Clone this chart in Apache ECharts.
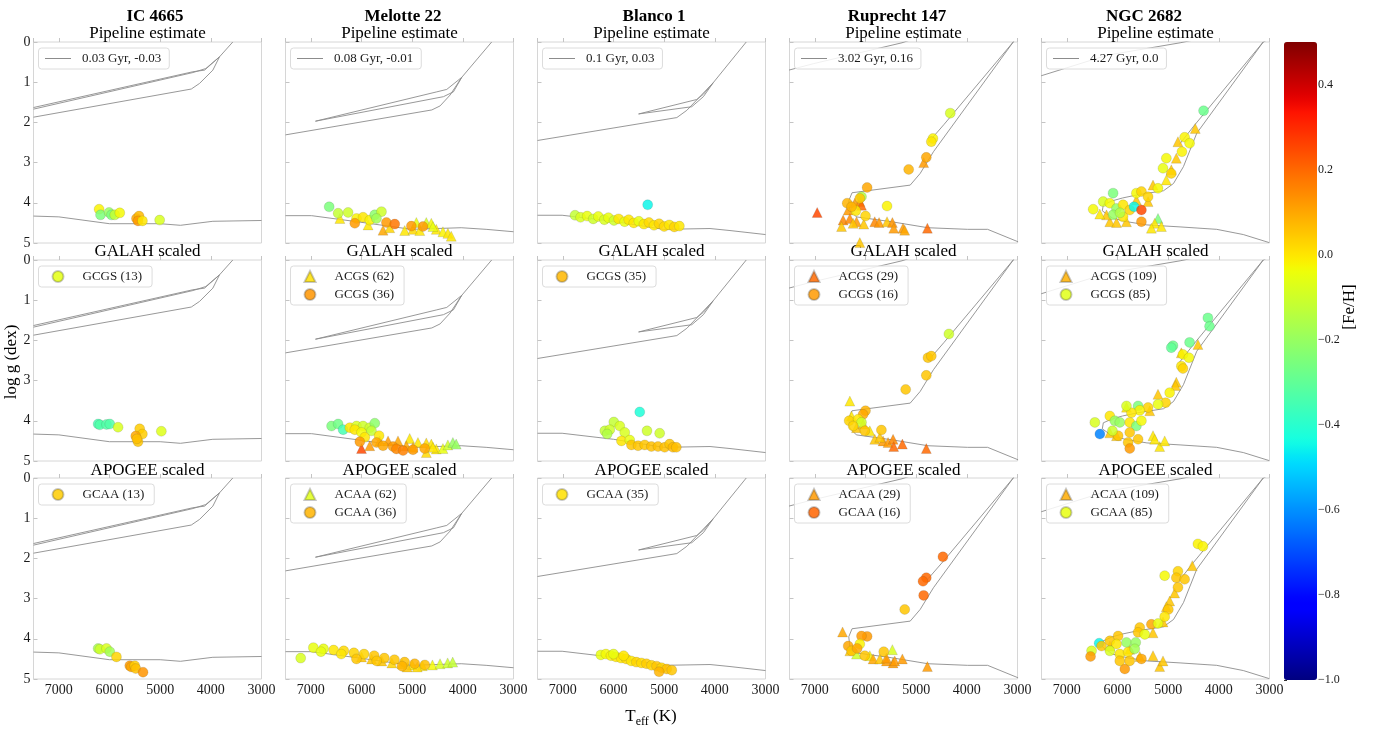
<!DOCTYPE html>
<html><head><meta charset="utf-8">
<script src="https://cdn.jsdelivr.net/npm/echarts@6/dist/echarts.min.js"></script>
<style>html,body{margin:0;padding:0;background:#fff}#c{width:1375px;height:729px}</style>
</head><body><div id="c"></div>
<script>
// ---------------- DATA ----------------
const columnNames = ['IC 4665', 'Melotte 22', 'Blanco 1', 'Ruprecht 147', 'NGC 2682'];
const rowNames = ['Pipeline estimate', 'GALAH scaled', 'APOGEE scaled'];
const isoLabels = ['0.03 Gyr, -0.03', '0.08 Gyr, -0.01', '0.1 Gyr, 0.03', '3.02 Gyr, 0.16', '4.27 Gyr, 0.0'];

// isochrones: list of segments of [Teff, logg]
const iso_ic4665 = [
  [[7500,1.63],[4354,0.74],[4124,0.70],[3829,0.37],[3567,0.0]],
  [[7500,1.67],[4354,0.76],[4100,0.66],[3829,0.37]],
  [[7500,1.87],[4386,1.17],[4222,1.03],[3960,0.70],[3829,0.37]],
  [[7500,4.33],[7000,4.35],[6000,4.52],[5000,4.52],[4600,4.56],[3960,4.46],[3000,4.44]]
];
const iso_mel22 = [
  [[6909,1.97],[4514,1.24],[4318,1.18],[4022,0.88],[3431,0.0]],
  [[6909,1.97],[4383,1.36],[4186,1.24],[4022,0.88]],
  [[7500,2.31],[4612,1.69],[4449,1.59],[4252,1.32],[4022,0.88]],
  [[7500,4.32],[6985,4.32],[6033,4.48],[5016,4.66],[4032,4.62],[3540,4.66],[3000,4.72]]
];
const iso_blanco1 = [
  [[7500,2.45],[4750,1.88],[4553,1.70],[4030,1.01],[3380,0.0]],
  [[5505,1.79],[4357,1.43],[4226,1.30],[4030,1.01]],
  [[5505,1.79],[4455,1.61],[4226,1.36],[4030,1.01]],
  [[7500,4.31],[7014,4.31],[5998,4.46],[5014,4.66],[4095,4.64],[3701,4.69],[3000,4.79]]
];
const iso_rup147 = [
  [[7513,0.70],[7031,0.54],[5281,0.02],[5000,-0.1]],
  [[2988,4.97],[3590,4.66],[3983,4.66],[4770,4.62],[5492,4.47],[6181,4.35],[6310,4.18],[6330,3.95],[6266,3.75],[5118,3.56],[4921,3.27],[4659,2.73],[3084,0.0],[3000,-0.15]],
  [[4760,2.50],[4450,2.05],[3084,0.0]]
];
const iso_ngc2682 = [
  [[7506,0.84],[6207,0.33],[4764,0.02],[4500,-0.05]],
  [[3006,4.99],[3517,4.79],[4042,4.66],[4764,4.60],[5420,4.55],[5814,4.47],[6100,4.38],[6300,4.20],[6280,4.05],[6100,3.95],[5900,3.88],[5600,3.80],[5092,3.70],[4895,3.52],[4698,3.10],[4436,2.27],[3124,0.0],[3050,-0.05]],
  [[4780,2.55],[4500,2.10],[3124,0.0]]
];

// stars: [Teff, logg, [Fe/H]]
const ic4665_pipe_gc = [[6205,4.16,-0.02],[6177,4.30,-0.25],[6008,4.24,-0.20],[5961,4.30,-0.25],[5896,4.30,-0.12],[5797,4.25,-0.03],[5468,4.39,0.10],[5417,4.33,0.07],[5437,4.45,0.12],[5350,4.45,0.00],[5010,4.43,-0.08]];
const ic4665_galah_gc = [[6224,4.08,-0.35],[6190,4.10,-0.33],[6059,4.09,-0.33],[5994,4.08,-0.33],[5831,4.16,-0.08],[5404,4.20,0.04],[5351,4.33,0.04],[5482,4.38,0.10],[5437,4.52,0.05],[5460,4.45,0.06],[4977,4.26,-0.07]];
const ic4665_apogee_gc = [[6224,4.24,-0.17],[6190,4.26,-0.10],[6059,4.24,-0.08],[5994,4.32,-0.18],[5863,4.45,0.03],[5600,4.67,0.12],[5570,4.70,0.10],[5502,4.67,0.04],[5482,4.74,0.06],[5338,4.83,0.13]];

const mel22_pipe_ac = [[6427,4.39,0.00],[5870,4.55,0.00],[5575,4.68,0.10],[5443,4.62,0.03],[5148,4.69,0.00],[4984,4.66,0.02],[4850,4.69,0.00],[4721,4.49,-0.08],[4622,4.51,-0.03],[4524,4.66,0.00],[4393,4.72,-0.02],[4295,4.76,0.00],[4229,4.83,0.00],[4917,4.49,-0.05],[4590,4.59,-0.05]];
const mel22_pipe_gc = [[6638,4.10,-0.25],[6461,4.26,-0.12],[6264,4.24,-0.10],[6098,4.39,-0.02],[6132,4.51,0.12],[5969,4.36,0.00],[5837,4.43,-0.02],[5738,4.30,-0.22],[5606,4.22,-0.10],[5705,4.39,-0.18],[5508,4.49,0.12],[5344,4.53,0.18],[5016,4.58,0.12],[4787,4.59,0.12]];
const mel22_galah_ac = [[6000,4.69,0.25],[5837,4.62,0.12],[5640,4.50,0.10],[5476,4.50,0.12],[5280,4.50,0.10],[5049,4.44,0.00],[4886,4.54,0.00],[4721,4.55,0.02],[4622,4.58,0.00],[4524,4.70,0.00],[4393,4.69,-0.05],[4295,4.60,-0.10],[4197,4.54,-0.20],[4131,4.58,-0.20],[5115,4.62,0.10],[4721,4.79,0.02],[4590,4.66,0.00],[4984,4.66,0.08]];
const mel22_galah_gc = [[6591,4.13,-0.25],[6461,4.08,-0.27],[6362,4.22,-0.35],[6230,4.17,0.00],[6098,4.13,-0.08],[5969,4.13,-0.10],[5837,4.17,-0.10],[5738,4.06,-0.22],[6132,4.22,0.00],[6000,4.29,-0.03],[5803,4.25,-0.12],[5935,4.41,0.00],[6033,4.52,0.12],[5653,4.37,0.00],[5705,4.54,0.10],[5575,4.62,0.10],[5378,4.64,0.12],[5311,4.70,0.15],[5181,4.74,0.16],[4984,4.72,0.12],[4754,4.69,0.10]];
const mel22_apogee_ac = [[6000,4.45,0.05],[5800,4.50,0.05],[5600,4.55,0.05],[5400,4.60,0.03],[5200,4.62,0.02],[5000,4.65,0.00],[4800,4.67,0.00],[4600,4.65,-0.03],[4450,4.62,-0.08],[4300,4.60,-0.10],[4200,4.58,-0.12],[5100,4.70,0.05],[4900,4.70,0.02]];
const mel22_apogee_gc = [[7200,4.48,-0.08],[6950,4.22,-0.05],[6750,4.25,-0.05],[6550,4.28,0.00],[6350,4.30,0.02],[6150,4.35,0.03],[5950,4.38,0.03],[5750,4.42,0.05],[5550,4.48,0.05],[5350,4.52,0.05],[5150,4.58,0.06],[4950,4.62,0.08],[4750,4.65,0.06],[6100,4.50,0.05],[5700,4.55,0.05],[5200,4.68,0.08],[6800,4.32,-0.05],[6400,4.38,0.00]];

const blanco_pipe_gc = [[6760,4.31,-0.12],[6650,4.36,-0.08],[6520,4.33,-0.05],[6400,4.40,-0.10],[6300,4.34,-0.05],[6180,4.42,-0.08],[6100,4.37,-0.05],[5990,4.44,-0.10],[5900,4.40,0.00],[5780,4.47,-0.05],[5700,4.42,0.00],[5600,4.50,0.00],[5500,4.46,-0.05],[5400,4.53,0.00],[5300,4.49,0.02],[5200,4.56,0.00],[5100,4.52,0.03],[5000,4.59,0.02],[4900,4.55,0.00],[4800,4.60,0.03],[4700,4.58,0.00],[5325,4.05,-0.45]];
const blanco_galah_gc = [[5482,3.78,-0.42],[5994,4.03,-0.12],[6171,4.25,-0.12],[6073,4.22,-0.10],[6125,4.33,-0.15],[5876,4.13,-0.08],[5778,4.29,-0.08],[5843,4.50,0.00],[5679,4.48,-0.05],[5339,4.25,-0.10],[5089,4.31,-0.10],[5646,4.60,0.05],[5515,4.62,0.05],[5384,4.60,0.05],[5253,4.64,0.06],[5122,4.64,0.06],[4990,4.66,0.06],[4892,4.58,0.05],[4826,4.66,0.07],[4760,4.66,0.06]];
const blanco_apogee_gc = [[6250,4.40,-0.05],[6150,4.38,-0.03],[6050,4.42,-0.02],[5950,4.45,0.00],[5850,4.48,0.00],[5750,4.50,0.02],[5650,4.55,0.00],[5550,4.58,0.03],[5450,4.60,0.02],[5350,4.62,0.04],[5250,4.66,0.03],[5150,4.68,0.05],[5050,4.72,0.03],[4950,4.75,0.06],[4850,4.78,0.05],[6000,4.38,-0.05],[5800,4.42,0.00],[5100,4.82,0.08]];

const rup_pipe_ac = [[6953,4.24,0.25],[6112,3.97,0.15],[6079,4.06,0.20],[6342,4.18,0.12],[6441,4.43,0.15],[6309,4.39,0.15],[6178,4.47,0.12],[6473,4.59,0.05],[6244,4.51,0.05],[6034,4.53,0.05],[5817,4.47,0.15],[5732,4.49,0.13],[5575,4.47,0.05],[5469,4.49,0.13],[5443,4.63,0.12],[5260,4.63,0.12],[5226,4.68,0.10],[4779,4.63,0.20],[6112,4.99,0.05],[4852,3.00,0.12],[6211,4.01,0.12]];
const rup_pipe_gc = [[4327,1.77,-0.08],[4669,2.40,-0.02],[4701,2.48,0.00],[4800,2.87,0.10],[5148,3.17,0.08],[5968,3.62,0.10],[6079,3.85,-0.15],[6112,3.89,0.05],[6362,4.01,0.08],[6191,4.20,0.00],[6000,4.33,0.03],[5575,4.08,-0.02],[6276,4.10,0.08]];
const rup_galah_ac = [[6309,3.51,0.00],[6276,3.88,0.00],[6178,4.17,0.05],[6047,4.08,0.05],[5915,4.25,0.00],[5817,4.46,0.05],[5653,4.50,0.12],[5555,4.54,0.12],[5456,4.46,0.15],[5443,4.64,0.20],[5272,4.58,0.20],[4800,4.69,0.20],[5718,4.41,0.05]];
const rup_galah_gc = [[4354,1.84,-0.10],[4767,2.43,0.05],[4701,2.39,0.05],[4800,2.87,0.05],[5207,3.22,0.05],[6000,3.75,0.08],[6047,3.84,0.10],[6323,4.00,0.03],[6145,3.96,0.00],[6079,4.04,-0.10],[6244,4.13,0.03],[6014,4.25,0.05],[5686,4.23,0.05]];
const rup_apogee_ac = [[6453,3.83,0.10],[6309,4.30,0.05],[6178,4.38,-0.10],[5915,4.42,-0.02],[5850,4.50,0.10],[5718,4.50,0.05],[5587,4.55,0.12],[5469,4.27,-0.08],[5456,4.60,0.12],[5423,4.55,0.12],[5272,4.50,0.12],[4779,4.69,0.12],[5587,4.48,0.12]];
const rup_apogee_gc = [[4472,1.96,0.20],[4800,2.48,0.20],[4865,2.57,0.20],[4852,2.92,0.20],[5226,3.27,0.05],[5968,3.94,0.12],[6079,3.93,0.12],[6112,4.13,-0.02],[6342,4.18,0.10],[6276,4.30,0.05],[6014,4.42,0.05],[5640,4.32,0.05],[6165,4.24,0.10]];

const ngc_pipe_ac = [[4465,2.15,0.05],[4807,2.48,0.05],[4839,2.89,0.05],[4938,3.18,0.05],[5036,3.43,0.00],[5299,3.56,0.05],[5397,3.97,0.05],[5201,4.39,-0.25],[5266,4.51,0.00],[5134,4.59,0.00],[5331,4.63,0.00],[6152,4.47,0.05],[6020,4.49,0.05],[5823,4.47,0.05],[5627,3.93,0.05],[6217,4.30,0.05],[6350,4.28,0.00]];
const ngc_pipe_gc = [[4301,1.71,-0.28],[4675,2.37,-0.02],[4577,2.52,-0.03],[4728,2.73,-0.02],[5036,2.89,-0.03],[5102,3.14,-0.05],[4938,3.27,0.03],[5201,3.64,-0.03],[5627,3.76,-0.03],[5528,3.72,0.03],[5397,3.85,0.03],[6087,3.76,-0.25],[6283,3.97,-0.08],[6480,4.16,-0.03],[6152,4.01,-0.03],[6020,4.14,-0.20],[5890,4.05,0.00],[5758,4.18,0.03],[5673,4.10,-0.45],[5528,4.18,0.25],[5528,4.47,0.12],[5890,4.35,0.00],[6087,4.30,-0.20],[5950,4.25,-0.15]];
const ngc_galah_ac = [[4413,2.10,0.05],[4740,2.31,0.05],[4839,3.04,0.05],[4856,3.12,0.05],[5201,3.34,0.05],[5364,3.75,0.05],[5823,3.66,0.00],[5299,4.37,0.00],[5167,4.64,0.00],[5069,4.50,0.00],[5266,4.46,0.00],[6020,4.37,0.05],[6152,4.30,0.05]];
const ngc_galah_gc = [[4216,1.44,-0.28],[4183,1.65,-0.28],[4905,2.13,-0.28],[4938,2.18,-0.30],[4577,2.05,-0.28],[4708,2.35,-0.02],[4590,2.43,-0.03],[4740,2.64,0.00],[4708,2.70,0.03],[4970,3.30,-0.02],[5049,3.55,0.03],[5201,3.59,-0.05],[5397,3.67,0.03],[5594,3.63,-0.25],[5561,3.74,-0.02],[5725,3.80,0.00],[5823,3.63,-0.08],[6447,4.04,-0.08],[6348,4.33,-0.62],[6152,3.88,0.00],[6053,4.00,-0.20],[5955,4.04,-0.20],[5758,4.04,0.00],[5627,4.13,-0.25],[5528,4.00,-0.03],[5758,4.29,0.05],[5594,4.46,0.05],[5791,4.54,0.05],[5758,4.69,0.12],[5988,4.37,0.05],[6100,4.25,-0.10]];
const ngc_apogee_ac = [[4524,2.18,0.05],[4872,2.86,0.05],[4970,3.06,0.05],[5036,3.20,0.05],[5299,3.85,0.05],[5102,3.58,0.05],[5299,4.42,0.05],[5167,4.69,0.05],[5102,4.55,0.05],[5561,4.44,0.05],[6150,4.18,0.05],[5760,4.26,0.05]];
const ngc_apogee_gc = [[4413,1.64,-0.02],[4314,1.70,-0.02],[5069,2.43,-0.03],[4807,2.32,0.03],[4839,2.48,0.05],[4675,2.52,0.05],[4807,2.72,0.05],[4997,3.27,0.05],[5069,3.45,0.00],[5331,3.64,0.10],[5561,3.72,0.05],[5594,3.84,0.05],[5462,3.89,-0.05],[5200,3.62,-0.05],[6362,4.11,-0.45],[6512,4.30,-0.08],[6532,4.44,0.12],[6315,4.18,0.05],[6150,4.05,0.05],[5988,3.93,0.05],[5823,4.09,-0.20],[5640,4.09,-0.20],[6020,4.13,0.00],[6150,4.30,-0.08],[5955,4.38,0.00],[5790,4.33,0.00],[5660,4.25,-0.18],[5528,4.50,0.10],[5856,4.75,0.12],[5955,4.55,0.05],[5760,4.55,0.05]];

// ---------------- PANEL TABLE ----------------
const isochrones = [iso_ic4665, iso_mel22, iso_blanco1, iso_rup147, iso_ngc2682];
const panels = [
  [ {gc:ic4665_pipe_gc}, {ac:mel22_pipe_ac, gc:mel22_pipe_gc}, {gc:blanco_pipe_gc}, {ac:rup_pipe_ac, gc:rup_pipe_gc}, {ac:ngc_pipe_ac, gc:ngc_pipe_gc} ],
  [ {gc:ic4665_galah_gc, gcName:'GCGS (13)'}, {ac:mel22_galah_ac, acName:'ACGS (62)', gc:mel22_galah_gc, gcName:'GCGS (36)'}, {gc:blanco_galah_gc, gcName:'GCGS (35)'}, {ac:rup_galah_ac, acName:'ACGS (29)', gc:rup_galah_gc, gcName:'GCGS (16)'}, {ac:ngc_galah_ac, acName:'ACGS (109)', gc:ngc_galah_gc, gcName:'GCGS (85)'} ],
  [ {gc:ic4665_apogee_gc, gcName:'GCAA (13)'}, {ac:mel22_apogee_ac, acName:'ACAA (62)', gc:mel22_apogee_gc, gcName:'GCAA (36)'}, {gc:blanco_apogee_gc, gcName:'GCAA (35)'}, {ac:rup_apogee_ac, acName:'ACAA (29)', gc:rup_apogee_gc, gcName:'GCAA (16)'}, {ac:ngc_apogee_ac, acName:'ACAA (109)', gc:ngc_apogee_gc, gcName:'GCAA (85)'} ]
];
// legend swatch colours (style)
const legendColors = {
  'GCGS (13)':'#e4ff12','ACGS (62)':'#ffe000','GCGS (36)':'#ff9500','GCGS (35)':'#ffb700','ACGS (29)':'#ff6a00','GCGS (16)':'#ff9a00','ACGS (109)':'#ffb000','GCGS (85)':'#e0ff18',
  'GCAA (13)':'#ffcc00','ACAA (62)':'#e0ff18','GCAA (36)':'#ffb400','GCAA (35)':'#ffe000','ACAA (29)':'#ff9a00','GCAA (16)':'#ff6400','ACAA (109)':'#ffac00','GCAA (85)':'#e8ff10'
};

// ---------------- STYLE / LAYOUT ----------------
const FONT = '"Liberation Serif", "DejaVu Serif", "Times New Roman", serif';
const colLeft = [33.5, 285.5, 537.5, 789.5, 1041.5];
const rowTop = [42, 260, 478];
const PW = 228, PH = 201;
const nameX = [155, 403, 654, 897, 1144];

function jet(t) {
  const f = pts => { for (let i = 0; i < pts.length - 1; i++) { if (t <= pts[i+1][0]) { const u = (t - pts[i][0]) / (pts[i+1][0] - pts[i][0]); return pts[i][1] + u * (pts[i+1][1] - pts[i][1]); } } return pts[pts.length-1][1]; };
  const r = f([[0,0],[0.35,0],[0.66,1],[0.89,1],[1,0.5]]);
  const g = f([[0,0],[0.125,0],[0.375,1],[0.64,1],[0.91,0],[1,0]]);
  const b = f([[0,0.5],[0.11,1],[0.34,1],[0.65,0],[1,0]]);
  return 'rgb(' + Math.round(r*255) + ',' + Math.round(g*255) + ',' + Math.round(b*255) + ')';
}
const jetColors = []; for (let i = 0; i <= 64; i++) jetColors.push(jet(i / 64));

const grid = [], xAxis = [], yAxis = [], series = [], legend = [], graphic = [];
const scatterIdx = [];
for (let r = 0; r < 3; r++) {
  for (let c = 0; c < 5; c++) {
    const gi = r * 5 + c;
    grid.push({left: colLeft[c], top: rowTop[r], width: PW, height: PH, show: true, borderColor: '#d6d6d6', borderWidth: 1, backgroundColor: '#fff'});
    xAxis.push({type: 'value', gridIndex: gi, min: 3000, max: 7500, interval: 1000, inverse: true,
      axisLine: {show: false}, splitLine: {show: false},
      axisTick: {show: true, inside: true, length: 4, lineStyle: {color: '#c4c4c4'}},
      axisLabel: {show: r === 2, showMaxLabel: false, margin: 4, fontFamily: FONT, fontSize: 14, color: '#1a1a1a', formatter: v => String(v)}});
    yAxis.push({type: 'value', gridIndex: gi, min: 0, max: 5, interval: 1, inverse: true,
      axisLine: {show: false}, splitLine: {show: false},
      axisTick: {show: true, inside: true, length: 4, lineStyle: {color: '#c4c4c4'}},
      axisLabel: {show: c === 0, margin: 3, fontFamily: FONT, fontSize: 14, color: '#1a1a1a'}});
    isochrones[c].forEach((seg, i) => {
      series.push({type: 'line', name: (r === 0 && i === 0) ? isoLabels[c] : ('iso-' + gi + '-' + i), xAxisIndex: gi, yAxisIndex: gi,
        data: seg, symbol: 'none', showSymbol: false, silent: true, z: 2,
        lineStyle: {color: '#8c8c8c', width: 0.9}});
    });
    const p = panels[r][c];
    const legNames = [];
    [['ac', 'triangle'], ['gc', 'circle']].forEach(([k, sym]) => {
      if (!p[k]) return;
      const nm = p[k + 'Name'] || ('pipe-' + k + '-' + gi);
      if (p[k + 'Name']) legNames.push(nm);
      scatterIdx.push(series.length);
      series.push({type: 'scatter', name: nm, xAxisIndex: gi, yAxisIndex: gi, data: p[k], symbol: sym, symbolSize: 10, z: 3,
        itemStyle: {color: legendColors[nm] || '#ffd000', opacity: 0.85, borderColor: 'rgba(70,70,70,0.35)', borderWidth: 0.5}});
    });
    if (r === 0) {
      legend.push({data: [isoLabels[c]], left: colLeft[c] + 5, top: rowTop[r] + 6, orient: 'vertical', selectedMode: false,
        backgroundColor: 'rgba(255,255,255,0.85)', borderColor: '#dcdcdc', borderWidth: 1, borderRadius: 3,
        padding: [4, 8, 4, 6], itemGap: 5, itemWidth: 26, itemHeight: 10,
        itemStyle: {opacity: 0}, lineStyle: {color: '#8c8c8c', width: 1},
        textStyle: {fontFamily: FONT, fontSize: 13, color: '#1a1a1a', padding: [0, 0, 0, 6]}});
    } else {
      legend.push({data: legNames, left: colLeft[c] + 5, top: rowTop[r] + 6, orient: 'vertical', selectedMode: false,
        backgroundColor: 'rgba(255,255,255,0.85)', borderColor: '#dcdcdc', borderWidth: 1, borderRadius: 3,
        padding: [4, 10, 4, 13], itemGap: 5, itemWidth: 11, itemHeight: 11,
        textStyle: {fontFamily: FONT, fontSize: 13, color: '#1a1a1a', padding: [0, 0, 0, 14]}});
    }
  }
}
// colour-bar axis
grid.push({left: 1284, top: 42, width: 33, height: 638, show: false});
xAxis.push({type: 'value', gridIndex: 15, show: false});
yAxis.push({type: 'value', gridIndex: 15, min: -1, max: 0.5, interval: 0.2, position: 'right',
  axisLine: {show: false}, splitLine: {show: false},
  axisTick: {show: true, length: 3, lineStyle: {color: '#333'}},
  axisLabel: {showMaxLabel: false, margin: 1, fontFamily: FONT, fontSize: 12, color: '#1a1a1a',
    formatter: v => { const q = Math.round(v * 10) / 10; return (q < 0 ? '\u2212' : '') + Math.abs(q).toFixed(1); }}});

// titles
for (let c = 0; c < 5; c++) {
  const cx = colLeft[c] + PW / 2;
  graphic.push({type: 'text', x: nameX[c], y: 16.5, style: {text: columnNames[c], font: 'bold 17px ' + FONT, fill: '#000', align: 'center', verticalAlign: 'middle'}});
  graphic.push({type: 'text', x: cx, y: 33.5, style: {text: rowNames[0], font: '17px ' + FONT, fill: '#000', align: 'center', verticalAlign: 'middle'}});
  graphic.push({type: 'text', x: cx, y: 251.5, style: {text: rowNames[1], font: '17px ' + FONT, fill: '#000', align: 'center', verticalAlign: 'middle'}});
  graphic.push({type: 'text', x: cx, y: 470.5, style: {text: rowNames[2], font: '17px ' + FONT, fill: '#000', align: 'center', verticalAlign: 'middle'}});
}
graphic.push({type: 'text', x: 12, y: 362, rotation: Math.PI / 2, style: {text: 'log g (dex)', font: '17px ' + FONT, fill: '#000', align: 'center', verticalAlign: 'middle'}});
graphic.push({type: 'text', x: 651, y: 717, style: {text: '{a|T}{s|eff}{a| (K)}', align: 'center', verticalAlign: 'middle',
  rich: {a: {fontFamily: FONT, fontSize: 17, fill: '#000', lineHeight: 22, verticalAlign: 'middle'},
         s: {fontFamily: FONT, fontSize: 12, fill: '#000', lineHeight: 12, verticalAlign: 'bottom'}}}});
graphic.push({type: 'text', x: 1350, y: 307, rotation: Math.PI / 2, style: {text: '[Fe/H]', font: '17px ' + FONT, fill: '#000', align: 'center', verticalAlign: 'middle'}});

const option = {
  animation: false,
  backgroundColor: '#fff',
  grid, xAxis, yAxis, series, legend, graphic,
  visualMap: [{type: 'continuous', min: -1, max: 0.5, dimension: 2, seriesIndex: scatterIdx,
    inRange: {color: jetColors}, left: 1284, top: 42, itemWidth: 33, itemHeight: 638, padding: 0,
    calculable: false, hoverLink: false, text: null, showLabel: false, orient: 'vertical'}]
};
const chart = echarts.init(document.getElementById('c'), null, {renderer: 'canvas'});
chart.setOption(option);
</script></body></html>
